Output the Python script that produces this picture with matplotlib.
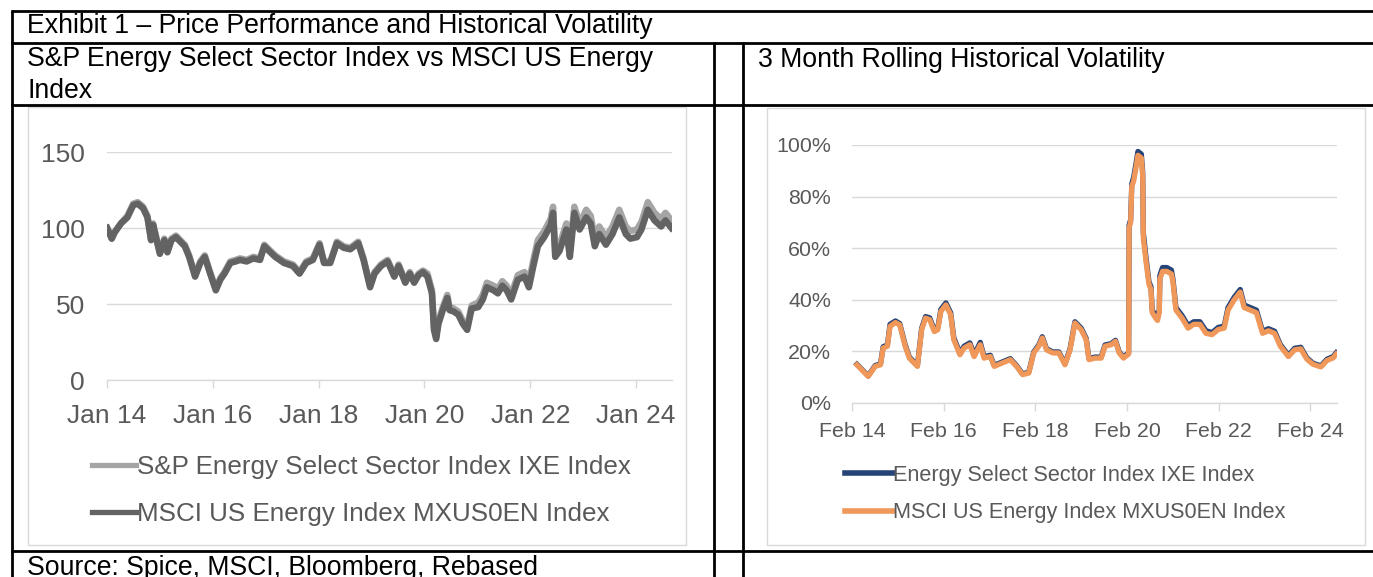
import matplotlib
matplotlib.use("Agg")
import matplotlib.pyplot as plt
import matplotlib.dates as mdates
from matplotlib.lines import Line2D
from matplotlib.patches import Rectangle
from matplotlib.ticker import FuncFormatter
import pandas as pd

plt.rcParams['font.family'] = ['Liberation Sans', 'DejaVu Sans']

# ---------------- data ----------------
title_main = "Exhibit 1 \u2013 Price Performance and Historical Volatility"
title_left = "S&P Energy Select Sector Index vs MSCI US Energy\nIndex"
title_right = "3 Month Rolling Historical Volatility"
source_text = "Source: Spice, MSCI, Bloomberg, Rebased"

left_labels = ["S&P Energy Select Sector Index IXE Index", "MSCI US Energy Index MXUS0EN Index"]
right_labels = ["Energy Select Sector Index IXE Index", "MSCI US Energy Index MXUS0EN Index"]

left_ticks = ["2014-01-01", "2016-01-01", "2018-01-01", "2020-01-01", "2022-01-01", "2024-01-01"]
right_ticks = ["2014-02-01", "2016-02-01", "2018-02-01", "2020-02-01", "2022-02-01", "2024-02-01"]
left_yticks = [0, 50, 100, 150]
right_yticks = [0.0, 0.2, 0.4, 0.6, 0.8, 1.0]

dates_l = [
    '2014-01-02', '2014-02-03', '2014-02-22', '2014-04-07', '2014-05-22', '2014-07-01', '2014-08-01', '2014-09-07', '2014-10-07', '2014-11-01', '2014-11-15', '2014-12-07',
    '2015-01-01', '2015-02-01', '2015-02-22', '2015-03-22', '2015-04-22', '2015-05-22', '2015-06-22', '2015-07-22', '2015-09-01', '2015-10-07', '2015-11-07', '2015-12-07',
    '2016-01-22', '2016-02-22', '2016-03-22', '2016-05-01', '2016-06-07', '2016-07-07', '2016-08-22', '2016-10-07', '2016-11-22', '2016-12-22',
    '2017-01-22', '2017-03-07', '2017-05-07', '2017-07-07', '2017-08-22', '2017-10-07', '2017-11-22',
    '2018-01-07', '2018-02-07', '2018-03-22', '2018-05-07', '2018-06-22', '2018-08-07', '2018-10-01', '2018-11-07', '2018-12-22',
    '2019-01-22', '2019-03-07', '2019-04-22', '2019-06-07', '2019-07-07', '2019-08-22', '2019-09-22', '2019-10-22', '2019-11-22', '2019-12-22',
    '2020-01-22', '2020-02-22', '2020-03-07', '2020-03-22', '2020-04-07', '2020-05-07', '2020-06-07', '2020-06-22', '2020-07-22', '2020-08-22', '2020-09-22', '2020-10-22', '2020-11-22',
    '2021-01-07', '2021-02-07', '2021-03-07', '2021-04-22', '2021-05-22', '2021-06-22', '2021-07-22', '2021-08-22', '2021-10-07', '2021-11-22', '2021-12-22',
    '2022-01-22', '2022-02-22', '2022-04-07', '2022-05-22', '2022-06-07', '2022-06-22', '2022-07-22', '2022-09-07', '2022-10-01', '2022-11-01', '2022-12-07',
    '2023-01-22', '2023-02-22', '2023-03-22', '2023-04-22', '2023-06-07', '2023-07-22', '2023-09-07', '2023-10-22', '2023-11-22',
    '2024-01-07', '2024-02-07', '2024-03-22', '2024-05-07', '2024-06-22', '2024-07-22', '2024-09-01']

sp_ixe = [
    100, 93, 97, 103, 108, 116, 117, 114, 108, 93, 103, 94,
    84, 93, 85, 93, 95, 92, 89, 82, 69, 78, 82, 73,
    60, 67, 71, 78, 79, 80, 79, 81, 80, 89,
    86, 82, 78, 76, 71, 78, 80,
    90, 78, 78, 91, 88, 87, 91, 80, 62,
    71, 76, 79, 69, 76, 65, 71, 65, 70, 72,
    70, 59, 35, 29, 39, 48, 56, 48, 47, 45, 39, 35, 49,
    51, 56, 64, 62, 60, 65, 62, 56, 69, 71, 64,
    79, 92, 98, 106, 114, 85, 89, 103, 85, 114, 103,
    112, 108, 93, 101, 94, 101, 112, 101, 98,
    99, 104, 117, 110, 106, 110, 105]

msci_en = [
    100, 93, 97, 103, 107, 115, 116, 113, 107, 92, 102, 93,
    83, 92, 84, 92, 94, 91, 88, 81, 68, 77, 81, 72,
    59, 66, 70, 77, 78, 79, 78, 80, 79, 88,
    85, 81, 77, 75, 70, 77, 79,
    89, 77, 77, 90, 87, 86, 90, 79, 61,
    70, 75, 78, 68, 75, 64, 70, 64, 69, 71,
    68, 57, 33, 27, 37, 46, 54, 46, 45, 43, 37, 33, 47,
    48, 53, 61, 59, 57, 62, 59, 53, 66, 68, 61,
    75, 88, 94, 102, 110, 81, 85, 99, 81, 110, 99,
    107, 103, 88, 96, 89, 96, 107, 96, 93,
    94, 99, 112, 105, 101, 105, 100]

dates_r = [
    '2014-03-12', '2014-06-10', '2014-08-04', '2014-09-16', '2014-10-07', '2014-11-10', '2014-12-01',
    '2015-01-13', '2015-02-16', '2015-04-01', '2015-05-04', '2015-07-07', '2015-08-10', '2015-09-10', '2015-10-13', '2015-11-19', '2015-12-16',
    '2016-01-10', '2016-02-19', '2016-03-28', '2016-04-22', '2016-06-10', '2016-07-13', '2016-08-28', '2016-10-01', '2016-11-19', '2016-12-19',
    '2017-02-07', '2017-03-10', '2017-05-13', '2017-07-16', '2017-09-04', '2017-10-22', '2017-12-10',
    '2018-01-19', '2018-02-28', '2018-03-28', '2018-05-01', '2018-06-19', '2018-08-07', '2018-09-25', '2018-11-04', '2018-12-13',
    '2019-02-01', '2019-03-13', '2019-04-04', '2019-05-22', '2019-07-10', '2019-08-10', '2019-09-28', '2019-11-01', '2019-12-01',
    '2020-01-04', '2020-02-14', '2020-02-18', '2020-03-01', '2020-03-10', '2020-03-25', '2020-04-15', '2020-04-28', '2020-05-25', '2020-06-05', '2020-06-10',
    '2020-07-01', '2020-07-25', '2020-08-10', '2020-08-20', '2020-09-15', '2020-10-01', '2020-10-15', '2020-10-20', '2020-11-10', '2020-12-15',
    '2021-01-20', '2021-02-01', '2021-02-25', '2021-04-13', '2021-06-01', '2021-07-16', '2021-09-04', '2021-10-22', '2021-12-10',
    '2022-01-28', '2022-03-16', '2022-04-16', '2022-06-04', '2022-07-22', '2022-08-22', '2022-10-10', '2022-11-28',
    '2023-01-16', '2023-03-04', '2023-04-22', '2023-06-07', '2023-08-10', '2023-09-28', '2023-11-16',
    '2024-01-04', '2024-02-22', '2024-04-25', '2024-06-13', '2024-08-01', '2024-08-25']

vol_ixe = [
    15.0, 10.5, 14.5, 15.2, 21.8, 22.5, 30.5,
    31.8, 30.8, 22.5, 17.8, 14.5, 29.0, 33.5, 33.0, 28.3, 29.0,
    36.3, 38.8, 35.0, 25.3, 19.3, 22.0, 23.3, 18.6, 23.5, 18.0,
    18.5, 14.6, 15.9, 17.2, 14.5, 11.3, 11.9,
    19.8, 22.5, 25.7, 21.0, 19.8, 19.8, 15.2, 21.0, 31.5,
    29.0, 25.0, 17.2, 17.8, 17.8, 22.5, 23.0, 24.3, 19.8,
    17.8, 19.5, 69.0, 71.0, 85.0, 87.5, 93.5, 97.5, 96.5, 89.5, 66.0,
    56.5, 47.0, 45.0, 36.0, 34.0, 33.0, 36.0, 49.5, 52.5, 52.5,
    51.5, 48.0, 37.0, 34.0, 30.0, 31.5, 31.5, 28.0, 27.3,
    29.3, 29.8, 37.0, 41.0, 44.0, 38.0, 37.0, 36.0,
    27.8, 28.8, 27.8, 22.6, 18.5, 21.2, 21.6,
    17.5, 15.4, 14.4, 17.0, 18.0, 19.5]

vol_msci = [
    14.8, 10.3, 14.2, 14.8, 21.3, 22.0, 29.7,
    31.2, 30.3, 22.0, 17.4, 14.2, 28.4, 32.9, 32.3, 27.7, 28.4,
    35.5, 38.0, 34.2, 24.5, 18.7, 21.3, 22.6, 18.0, 22.6, 17.4,
    18.0, 14.2, 15.5, 16.8, 14.2, 11.0, 11.6,
    19.4, 22.0, 25.2, 20.6, 19.4, 19.4, 14.8, 20.6, 31.0,
    28.4, 24.5, 16.8, 17.4, 17.4, 22.0, 22.6, 23.9, 19.4,
    17.4, 19.0, 68.0, 70.0, 84.0, 86.0, 92.0, 96.0, 95.0, 88.0, 64.0,
    55.0, 46.0, 44.0, 35.0, 33.0, 32.0, 35.0, 48.0, 51.0, 51.0,
    50.0, 47.0, 36.0, 33.0, 29.0, 30.5, 30.5, 27.0, 26.5,
    28.5, 29.0, 36.0, 40.0, 43.0, 37.0, 36.0, 35.0,
    27.0, 28.0, 27.0, 22.0, 18.0, 20.6, 21.0,
    17.0, 15.0, 14.0, 16.5, 17.5, 19.0]

# ---------------- layout helpers ----------------
W, H = 1373, 577
fig = plt.figure(figsize=(W / 100, H / 100), dpi=100)


def fx(px):
    return px / W


def fy(py):
    return 1 - py / H


def axes_px(x0, y_top, x1, y_bot):
    return fig.add_axes([fx(x0), fy(y_bot), (x1 - x0) / W, (y_bot - y_top) / H])


GRID = '#D9D9D9'
TXT = '#595959'
TFS = 19.2

# ---------------- table lines ----------------
def hline(y, x0, x1):
    fig.add_artist(Line2D([fx(x0), fx(x1)], [fy(y), fy(y)], color='black', lw=2.0,
                          transform=fig.transFigure, solid_capstyle='butt'))


def vline(x, y0, y1):
    fig.add_artist(Line2D([fx(x), fx(x)], [fy(y0), fy(y1)], color='black', lw=2.0,
                          transform=fig.transFigure, solid_capstyle='butt'))


hline(11, 11, W + 5)
hline(43, 11, W + 5)
hline(105, 11, W + 5)
hline(551, 11, W + 5)
vline(12, 10, H + 5)
vline(714, 42, H + 5)
vline(743, 42, H + 5)

# chart frames
for (x0, y0, x1, y1) in [(28, 107, 686, 545), (767, 108, 1365, 545)]:
    fig.add_artist(Rectangle((fx(x0), fy(y1)), (x1 - x0) / W, (y1 - y0) / H, fill=False,
                             ec=GRID, lw=1.0, transform=fig.transFigure))

# titles
fig.text(fx(27), fy(26), title_main, fontsize=TFS, va='center', ha='left', color='black')
fig.text(fx(27), fy(75), title_left, fontsize=TFS, va='center', ha='left', color='black',
         linespacing=1.3)
fig.text(fx(758), fy(60), title_right, fontsize=TFS, va='center', ha='left', color='black')
fig.text(fx(27), fy(568), source_text, fontsize=TFS, va='center', ha='left', color='black')


def style_axes(ax, fs, ypad, xpad):
    for s in ['top', 'right', 'left']:
        ax.spines[s].set_visible(False)
    ax.spines['bottom'].set_color(GRID)
    ax.spines['bottom'].set_linewidth(1.0)
    ax.grid(axis='y', color=GRID, lw=1.0)
    ax.set_axisbelow(True)
    ax.tick_params(axis='y', length=0, pad=ypad, labelsize=fs, labelcolor=TXT)
    ax.tick_params(axis='x', length=6, width=1.0, color=GRID, direction='out', pad=xpad,
                   labelsize=fs, labelcolor=TXT)


# ---------------- left chart ----------------
axL = axes_px(107, 152, 672, 380)
dl = pd.to_datetime(dates_l)
l1, = axL.plot(dl, sp_ixe, color='#A5A5A5', lw=4.7, solid_joinstyle='round', label=left_labels[0])
l2, = axL.plot(dl, msci_en, color='#636363', lw=4.7, solid_joinstyle='round', label=left_labels[1])
axL.set_xlim(pd.Timestamp('2014-01-01'), pd.Timestamp('2024-09-05'))
axL.set_ylim(0, 150)
axL.set_yticks(left_yticks)
axL.set_xticks(pd.to_datetime(left_ticks))
axL.xaxis.set_major_formatter(mdates.DateFormatter('%b %y'))
style_axes(axL, 19, 16, 11)

legL = axL.legend(handles=[l1, l2], labels=left_labels, loc='upper left',
                  bbox_to_anchor=(fx(92), fy(455)), bbox_transform=fig.transFigure,
                  frameon=False, fontsize=18.7, handlelength=1.7, handletextpad=0.02,
                  borderpad=0, borderaxespad=0, labelspacing=0.9, labelcolor=TXT)
for h in legL.get_lines():
    h.set_linewidth(3.8)

# ---------------- right chart ----------------
axR = axes_px(852, 145, 1337, 403)
dr = pd.to_datetime(dates_r)
r1, = axR.plot(dr, [v / 100 for v in vol_ixe], color='#264478', lw=3.8, solid_joinstyle='round',
               label=right_labels[0])
r2, = axR.plot(dr, [v / 100 for v in vol_msci], color='#F0975A', lw=3.8, solid_joinstyle='round',
               label=right_labels[1])
axR.set_xlim(pd.Timestamp('2014-02-01'), pd.Timestamp('2024-08-31'))
axR.set_ylim(0, 1.0)
axR.set_yticks(right_yticks)
axR.yaxis.set_major_formatter(FuncFormatter(lambda v, p: f"{v * 100:.0f}%"))
axR.set_xticks(pd.to_datetime(right_ticks))
axR.xaxis.set_major_formatter(mdates.DateFormatter('%b %y'))
style_axes(axR, 15.4, 15, 8)

legR = axR.legend(handles=[r1, r2], labels=right_labels, loc='upper left',
                  bbox_to_anchor=(fx(845), fy(465)), bbox_transform=fig.transFigure,
                  frameon=False, fontsize=15.6, handlelength=2.2, handletextpad=0.02,
                  borderpad=0, borderaxespad=0, labelspacing=0.75, labelcolor=TXT)
for h in legR.get_lines():
    h.set_linewidth(4.0)

fig.savefig('out.png', dpi=100)
